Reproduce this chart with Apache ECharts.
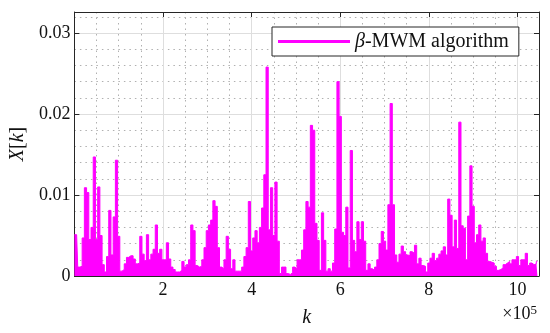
<!DOCTYPE html>
<html>
<head>
<meta charset="utf-8">
<script src="https://cdn.jsdelivr.net/npm/echarts@6/dist/echarts.min.js"></script>
<style>html,body{margin:0;padding:0;background:#fff;}#c{width:550px;height:333px;}</style>
</head>
<body>
<div id="c"></div>
<script>
// sample spacing along k (index step of the displayed samples)
const kSpacing = 5000;
const kMax = 1048576;
// |X[k]| envelope, one value per kSpacing
const xValues = [
0.0051,0.0051,0.0011,0.0012,0.0047,0.0109,0.0103,0.0045,0.0060,0.0147,
0.0045,0.0110,0.0050,0.0014,0.0005,0.0024,0.0081,0.0026,0.0073,0.0143,
0.0049,0.0006,0.0008,0.0015,0.0023,0.0025,0.0025,0.0021,0.0015,0.0016,
0.0049,0.0027,0.0019,0.0051,0.0020,0.0027,0.0033,0.0063,0.0028,0.0033,
0.0020,0.0020,0.0041,0.0021,0.0011,0.0008,0.0005,0.0005,0.0007,0.0018,
0.0011,0.0014,0.0020,0.0063,0.0056,0.0013,0.0011,0.0012,0.0020,0.0035,
0.0056,0.0063,0.0069,0.0093,0.0086,0.0035,0.0011,0.0009,0.0020,0.0049,
0.0033,0.0009,0.0020,0.0006,0.0006,0.0006,0.0011,0.0024,0.0035,0.0092,
0.0031,0.0047,0.0056,0.0041,0.0060,0.0084,0.0125,0.0258,0.0057,0.0109,
0.0050,0.0116,0.0043,0.0003,0.0011,0.0011,0.0003,0.0002,0.0004,0.0011,
0.0009,0.0020,0.0020,0.0032,0.0057,0.0092,0.0085,0.0186,0.0180,0.0065,
0.0044,0.0007,0.0078,0.0044,0.0006,0.0009,0.0006,0.0016,0.0058,0.0240,
0.0197,0.0054,0.0050,0.0085,0.0010,0.0155,0.0044,0.0030,0.0067,0.0045,
0.0067,0.0043,0.0007,0.0015,0.0009,0.0007,0.0011,0.0020,0.0040,0.0055,
0.0043,0.0032,0.0088,0.0213,0.0088,0.0026,0.0017,0.0027,0.0037,0.0030,
0.0026,0.0025,0.0030,0.0028,0.0038,0.0015,0.0022,0.0013,0.0012,0.0005,
0.0016,0.0022,0.0028,0.0019,0.0022,0.0027,0.0031,0.0036,0.0026,0.0095,
0.0075,0.0036,0.0069,0.0034,0.0190,0.0062,0.0059,0.0020,0.0074,0.0136,
0.0086,0.0041,0.0051,0.0063,0.0043,0.0047,0.0028,0.0018,0.0017,0.0016,
0.0012,0.0007,0.0008,0.0010,0.0014,0.0016,0.0018,0.0015,0.0020,0.0020,
0.0024,0.0013,0.0020,0.0020,0.0028,0.0013,0.0016,0.0014,0.0015,0.0018
];
const yMax = 0.0326;
const xTickStep = 200000;
const xMinorStep = 50000;
const yTickStep = 0.01;
const yMinorStep = 0.002;
const legendName = '{b|β}-MWM algorithm';

const FONT = 'Liberation Serif';
const AX = '#262626';
const chart = echarts.init(document.getElementById('c'), null, {renderer: 'canvas'});

const seriesData = xValues.map((v, i) => [i * kSpacing, v]);

const boxAxisCommon = {
  axisLine: {show: true, onZero: false, lineStyle: {color: AX, width: 1}},
  axisTick: {show: true, inside: true, length: 5, lineStyle: {color: AX, width: 1}},
  axisLabel: {show: false},
  splitLine: {show: false}
};

chart.setOption({
  animation: false,
  backgroundColor: '#fff',
  grid: {left: 68, right: 11, top: 12, bottom: 57, containLabel: false},
  legend: {
    show: true,
    left: 272, top: 27,
    padding: [4, 10, 4, 6],
    itemWidth: 72, itemHeight: 3,
    icon: 'rect',
    backgroundColor: '#fff',
    borderColor: AX, borderWidth: 1, borderRadius: 0,
    formatter: () => legendName,
    textStyle: {
      fontFamily: FONT, fontSize: 20, color: '#111', lineHeight: 21,
      rich: {b: {fontFamily: FONT, fontStyle: 'italic', fontSize: 20, color: '#111'}}
    },
    data: ['β-MWM algorithm']
  },
  xAxis: [
    {
      type: 'value', gridIndex: 0, position: 'bottom', z: 1,
      min: 0, max: kMax, interval: xTickStep,
      axisLine: {show: true, onZero: false, lineStyle: {color: AX, width: 1}},
      axisTick: {show: true, inside: true, length: 5, lineStyle: {color: AX}},
      axisLabel: {
        show: true, margin: 5, showMinLabel: false, showMaxLabel: false,
        fontFamily: FONT, fontSize: 18, color: '#111',
        formatter: v => (v === 0 ? '' : String(Math.round(v / 1e5)))
      },
      splitLine: {show: true, lineStyle: {color: '#dedede', width: 1}},
      name: '{i|k}', nameLocation: 'middle', nameGap: 32,
      nameTextStyle: {fontFamily: FONT, fontSize: 20, color: '#111',
        rich: {i: {fontFamily: FONT, fontStyle: 'italic', fontSize: 20, color: '#111'}}}
    },
    Object.assign({type: 'value', gridIndex: 0, position: 'top', z: 3,
      min: 0, max: kMax, interval: xTickStep}, boxAxisCommon),
    {
      type: 'value', gridIndex: 0, position: 'top', z: 0,
      min: 0, max: kMax, interval: xMinorStep,
      axisLine: {show: false}, axisTick: {show: false}, axisLabel: {show: false},
      splitLine: {show: true, lineStyle: {color: '#b0b0b0', width: 1, type: [1.5, 4]}}
    }
  ],
  yAxis: [
    {
      type: 'value', gridIndex: 0, position: 'left', z: 1,
      min: 0, max: yMax, interval: yTickStep,
      axisLine: {show: true, onZero: false, lineStyle: {color: AX, width: 1}},
      axisTick: {show: true, inside: true, length: 5, lineStyle: {color: AX}},
      axisLabel: {
        show: true, margin: 4, showMaxLabel: false,
        fontFamily: FONT, fontSize: 18, color: '#111',
        formatter: v => (v === 0 ? '0' : v.toFixed(2))
      },
      splitLine: {show: true, lineStyle: {color: '#dedede', width: 1}},
      name: '{i|X}[{i|k}]', nameLocation: 'middle', nameGap: 36, nameRotate: 90,
      nameTextStyle: {fontFamily: FONT, fontSize: 20, color: '#111',
        rich: {i: {fontFamily: FONT, fontStyle: 'italic', fontSize: 20, color: '#111'}}}
    },
    Object.assign({type: 'value', gridIndex: 0, position: 'right', z: 3,
      min: 0, max: yMax, interval: yTickStep}, boxAxisCommon),
    {
      type: 'value', gridIndex: 0, position: 'right', z: 0,
      min: 0, max: yMax, interval: yMinorStep,
      axisLine: {show: false}, axisTick: {show: false}, axisLabel: {show: false},
      splitLine: {show: true, lineStyle: {color: '#b0b0b0', width: 1, type: [1.5, 4]}}
    }
  ],
  graphic: [
    {
      type: 'text', right: 13, top: 304, z: 10,
      style: {
        text: '×10{s|5}',
        fontFamily: FONT, fontSize: 18, fill: '#111',
        rich: {s: {fontFamily: FONT, fontSize: 13, fill: '#111', verticalAlign: 'top', padding: [0, 0, 8, 0]}}
      }
    }
  ],
  series: [
    {
      name: 'β-MWM algorithm',
      type: 'line',
      xAxisIndex: 0, yAxisIndex: 0,
      data: seriesData,
      step: 'middle',
      showSymbol: false, symbol: 'none',
      sampling: null,
      z: 2,
      itemStyle: {color: '#ff00ff'},
      lineStyle: {color: '#ff00ff', width: 1},
      areaStyle: {color: '#ff00ff', opacity: 1, origin: 'start'}
    }
  ]
});
</script>
</body>
</html>
